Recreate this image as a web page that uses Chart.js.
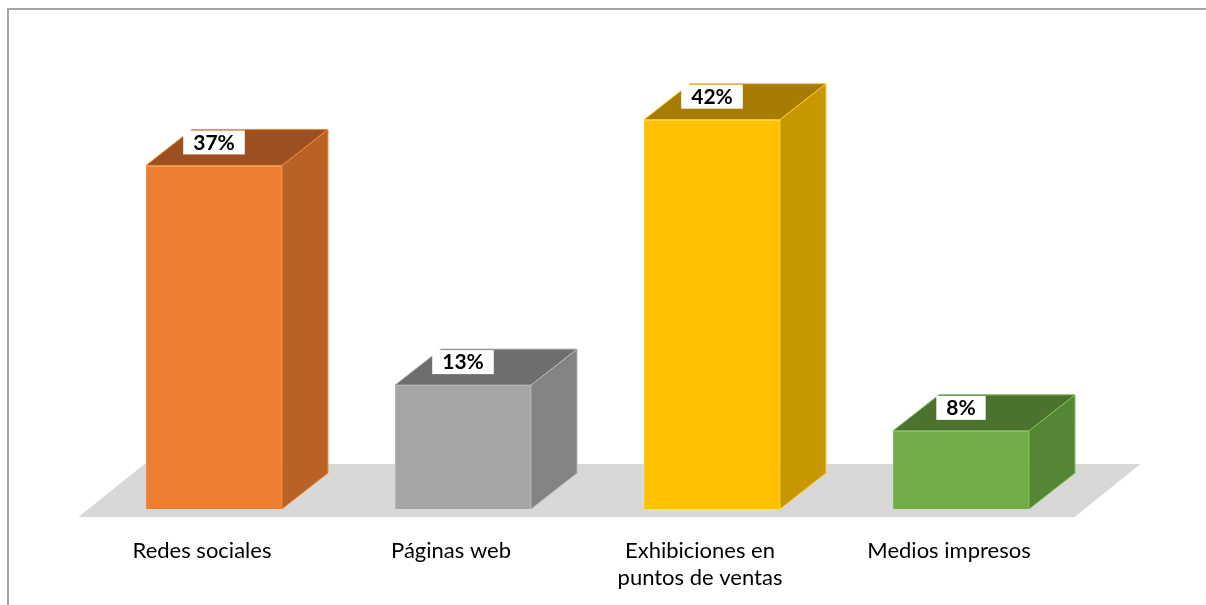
<!DOCTYPE html>
<html>
<head>
<meta charset="utf-8">
<script src="https://cdn.jsdelivr.net/npm/chart.js@4/dist/chart.umd.min.js"></script>
<style>
  html, body { margin: 0; padding: 0; background: #fff; }
  #wrap { width: 1206px; height: 605px; position: relative; }
</style>
</head>
<body>
<div id="wrap"><canvas id="chart" width="1206" height="605"></canvas></div>
<script>
Chart.defaults.font.family = 'Lato';

// Chart data
const categories = ['Redes sociales', 'Páginas web', ['Exhibiciones en', 'puntos de ventas'], 'Medios impresos'];
const values = [37, 13, 42, 8];
const valueLabels = ['37%', '13%', '42%', '8%'];

// front / side / top colours for each bar
const frontColors = ['#ED7D31', '#A5A5A5', '#FFC000', '#70AD47'];
const sideColors = ['#B96226', '#838383', '#C89700', '#558636'];
const topColors = ['#9C5021', '#6E6E6E', '#A67D00', '#4B722F'];
const edgeColors = ['#F28A3E', '#B4B4B4', '#FFCA28', '#7DBB52'];

const DEPTH_X = 46, DEPTH_Y = 36;
const AXIS_MIN = -0.535;

const bar3d = {
  id: 'bar3d',
  beforeDatasetsDraw(chart) {
    const ctx = chart.ctx;
    const area = chart.chartArea;
    ctx.save();
    // outer frame
    ctx.strokeStyle = '#A6A6A6';
    ctx.lineWidth = 2;
    ctx.beginPath();
    ctx.moveTo(8, 605);
    ctx.lineTo(8, 9);
    ctx.lineTo(1206, 9);
    ctx.stroke();
    // floor
    const fy = area.bottom + 8, fl = area.left - 11, fr = area.right - 11;
    ctx.fillStyle = '#D9D8D9';
    ctx.beginPath();
    ctx.moveTo(fl, fy);
    ctx.lineTo(fr, fy);
    ctx.lineTo(fr + 66, fy - 53);
    ctx.lineTo(fl + 66, fy - 53);
    ctx.closePath();
    ctx.fill();
    ctx.restore();
  },
  afterDatasetsDraw(chart) {
    const ctx = chart.ctx;
    const meta = chart.getDatasetMeta(0);
    ctx.save();
    ctx.lineWidth = 1;
    meta.data.forEach((bar, i) => {
      const l = bar.x - bar.width / 2, r = bar.x + bar.width / 2;
      const t = bar.y, b = bar.base;
      ctx.strokeStyle = edgeColors[i];
      // side face
      ctx.fillStyle = sideColors[i];
      ctx.beginPath();
      ctx.moveTo(r, t);
      ctx.lineTo(r + DEPTH_X, t - DEPTH_Y);
      ctx.lineTo(r + DEPTH_X, b - DEPTH_Y);
      ctx.lineTo(r, b);
      ctx.closePath();
      ctx.fill();
      ctx.stroke();
      // top face
      ctx.fillStyle = topColors[i];
      ctx.beginPath();
      ctx.moveTo(l, t);
      ctx.lineTo(l + DEPTH_X, t - DEPTH_Y);
      ctx.lineTo(r + DEPTH_X, t - DEPTH_Y);
      ctx.lineTo(r, t);
      ctx.closePath();
      ctx.fill();
      ctx.stroke();
      // value label
      ctx.font = 'bold 21px Lato';
      const w = ctx.measureText(valueLabels[i]).width + 20;
      const by = t - DEPTH_Y + 1;
      ctx.fillStyle = '#fff';
      ctx.fillRect(bar.x - w / 2, by, w, 24);
      ctx.fillStyle = '#000';
      ctx.textAlign = 'center';
      ctx.textBaseline = 'middle';
      ctx.fillText(valueLabels[i], bar.x, by + 12.5);
    });
    ctx.restore();
  }
};

new Chart(document.getElementById('chart'), {
  type: 'bar',
  data: {
    labels: categories,
    datasets: [{
      data: values,
      base: AXIS_MIN,
      backgroundColor: frontColors,
      borderColor: edgeColors,
      borderWidth: 1,
      barPercentage: 0.546,
      categoryPercentage: 1
    }]
  },
  options: {
    responsive: false,
    animation: false,
    layout: { padding: { left: 89.5, right: 120.5, top: 51, bottom: 0 } },
    plugins: { legend: { display: false }, tooltip: { enabled: false } },
    scales: {
      y: { display: false, min: AXIS_MIN, max: 49.5 },
      x: {
        grid: { display: false, drawTicks: false },
        border: { display: false },
        afterFit: (axis) => { axis.height = 96; },
        ticks: {
          color: '#000',
          padding: 28,
          labelOffset: -12,
          maxRotation: 0,
          autoSkip: false,
          font: { size: 22, lineHeight: 1.23 }
        }
      }
    }
  },
  plugins: [bar3d]
});
</script>
</body>
</html>
